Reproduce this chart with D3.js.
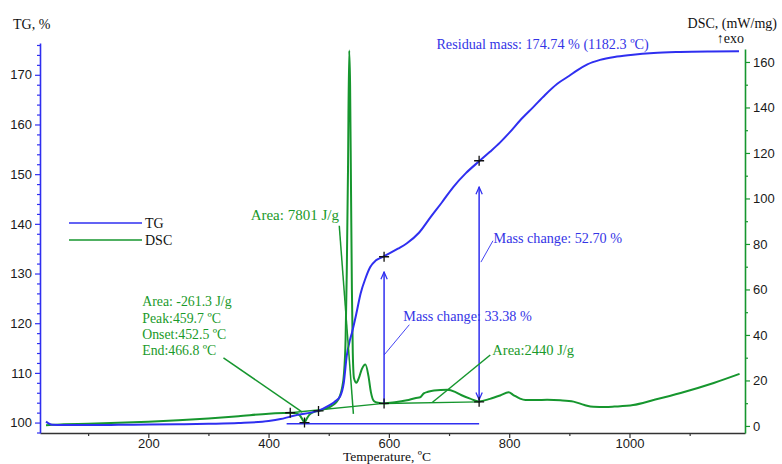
<!DOCTYPE html>
<html>
<head>
<meta charset="utf-8">
<script src="https://cdn.jsdelivr.net/npm/d3@7"></script>
<style>
  html, body { margin: 0; padding: 0; background: #fff; overflow: hidden; }
  svg { display: block; }
</style>
</head>
<body>
<svg id="chart" width="782" height="464"></svg>
<script>
// ---- TG curve (temperature, °C → mass, %) ----
const tgTemp = [30, 35, 40, 60, 100, 150, 200, 250, 300, 350, 400, 420, 436, 450, 470, 483, 500, 510, 519, 525, 530, 535, 539, 546, 553, 561, 569, 578, 589, 600, 615, 630, 650, 669, 688, 707, 728, 750, 768, 785, 800, 818, 840, 860, 880, 900, 913, 930, 951, 975, 1002, 1040, 1084, 1130, 1182];
const tgMass = [100.2, 99.8, 99.55, 99.5, 99.5, 99.55, 99.6, 99.65, 99.75, 99.9, 100.3, 100.7, 101.2, 101.6, 102.0, 102.4, 103.4, 104.2, 105.3, 108.0, 113.5, 116.5, 118.3, 122.0, 126.0, 129.0, 131.3, 132.6, 133.3, 134.0, 135.0, 136.1, 138.2, 141.3, 144.3, 147.4, 150.2, 152.6, 154.5, 156.4, 158.3, 160.8, 163.5, 166.0, 168.2, 169.8, 170.9, 172.1, 173.0, 173.6, 174.0, 174.4, 174.6, 174.7, 174.74];

// ---- DSC curve (temperature, °C → heat flow, mW/mg) ----
const dscTemp = [30, 40, 60, 100, 150, 200, 250, 300, 350, 400, 425, 436, 445, 452, 456, 459.7, 463, 468, 475, 483, 495, 505, 512, 518, 522, 525, 528, 530, 532, 534, 535.5, 537, 538.5, 540, 542, 546, 550, 555, 561, 566, 570, 575, 582, 592, 610, 630, 645, 652, 658, 665, 675, 697, 710, 720, 735, 750, 768, 785, 799, 807, 818, 827, 845, 863, 885, 907, 925, 940, 960, 975, 1006, 1040, 1085, 1140, 1183];
const dscFlow = [0.3, 0.5, 0.7, 1.0, 1.4, 1.9, 2.5, 3.3, 4.3, 5.4, 5.7, 5.8, 5.6, 4.6, 3.0, 1.5, 3.0, 5.0, 6.1, 6.6, 7.6, 8.8, 10.3, 12.8, 16.5, 22, 38, 68, 112, 165, 150, 105, 60, 32, 21, 19, 21, 25, 27, 22, 15, 11, 10.2, 9.9, 10.4, 11.3, 12.3, 12.6, 14.3, 15.0, 15.6, 15.9, 15.0, 13.6, 12.0, 10.8, 11.9, 13.4, 14.8, 13.6, 12.0, 11.4, 11.4, 11.5, 11.3, 10.7, 9.2, 8.4, 8.3, 8.5, 9.2, 11.4, 14.5, 18.9, 22.9];

// ---- axis ticks ----
const xTicks = [200, 400, 600, 800, 1000];
const xMinor = [100, 300, 500, 700, 900, 1100];
const tgTicks = [100, 110, 120, 130, 140, 150, 160, 170];
const tgMinor = [98, 102, 104, 106, 108, 112, 114, 116, 118, 122, 124, 126, 128, 132, 134, 136, 138, 142, 144, 146, 148, 152, 154, 156, 158, 162, 164, 166, 168, 172, 174, 176];
const dscTicks = [0, 20, 40, 60, 80, 100, 120, 140, 160];
const dscMinor = [10, 30, 50, 70, 90, 110, 130, 150];

// ---- evaluation marks ----
// DSC integration baselines [T1, d1, T2, d2]
const dscBaselines = [[436, 5.8, 592, 9.9], [592, 9.9, 750, 10.6]];
// cross markers on the DSC curve [T, d]
const dscCrosses = [[436, 5.8], [459.7, 1.5], [483, 6.6], [592, 9.9], [750, 10.6]];
// mass change steps [T, TG at step end]
const massSteps = [[592, 133.38], [750, 152.70]];
// mass-change arrows [T, from TG, to TG, head at start?]
const massArrows = [[592, 103.8, 130.3, false], [750, 104.6, 147.4, true]];
// reference level of the starting mass [T1, T2, TG]
const refLevel = [430, 750, 99.74];

// annotation texts
const dscNotes = [
  { t: 517, d: 90.5, text: "Area: 7801 J/g", anchor: "end", size: 15 },
  { t: 190, d: 52.7, text: "Area: -261.3 J/g", anchor: "start", size: 13.8 },
  { t: 190, d: 45.4, text: "Peak:459.7 ºC", anchor: "start", size: 13.8 },
  { t: 190, d: 38.2, text: "Onset:452.5 ºC", anchor: "start", size: 13.8 },
  { t: 190, d: 31.0, text: "End:466.8 ºC", anchor: "start", size: 13.8 },
  { t: 772, d: 31.0, text: "Area:2440  J/g", anchor: "start", size: 14.5 }
];
const dscLeaders = [[517.5, 88.0, 541, 5.3], [325, 29.9, 456, 6.1], [768.5, 31.2, 672, 10.3]];
const tgNotes = [
  { t: 624, v: 120.5, text: "Mass change: 33.38 %" },
  { t: 774, v: 136.1, text: "Mass change: 52.70 %" },
  { t: 679, v: 175.2, text: "Residual mass: 174.74 % (1182.3 ºC)" }
];
const tgLeaders = [[634, 119.7, 592, 113.6], [773, 136.6, 753, 132.3]];

// ---- colours ----
const BLUE = "#2f2ff0";
const GREEN = "#16962e";
const TEXT_BLUE = "#3434e6";
const TEXT_GREEN = "#1a9a2a";

const svg = d3.select("#chart");
const L = 40, R = 745, T = 43, B = 433;

const x = d3.scaleLinear().domain([20, 1192]).range([L, R]);
const yL = d3.scaleLinear().domain([97.9, 176.4]).range([B, T]);
const yR = d3.scaleLinear().domain([-3.1, 165.7]).range([B, 49]);

const serif = "'Liberation Serif', 'Times New Roman', serif";
const sans = "'Liberation Sans', Arial, sans-serif";
const intFmt = d3.format("d");

// ---- axes ----
function styleAxis(g, color) {
  g.select(".domain").attr("stroke", color).attr("stroke-width", 1.6);
  g.selectAll(".tick line").attr("stroke", color).attr("stroke-width", 1.2);
  g.selectAll(".tick text").attr("fill", "#1a1a1a").style("font-family", sans).style("font-size", "13px");
}

const gxMinor = svg.append("g").attr("transform", `translate(0,${B})`)
  .call(d3.axisBottom(x).tickValues(xMinor).tickSize(3).tickSizeOuter(0).tickFormat(""));
gxMinor.select(".domain").remove();
gxMinor.selectAll(".tick line").attr("stroke", "#333").attr("stroke-width", 1.2);
const gx = svg.append("g").attr("transform", `translate(0,${B})`)
  .call(d3.axisBottom(x).tickValues(xTicks).tickFormat(intFmt).tickSize(5).tickSizeOuter(0).tickPadding(1));
styleAxis(gx, "#333");

const gyMinor = svg.append("g").attr("transform", `translate(${L},0)`)
  .call(d3.axisLeft(yL).tickValues(tgMinor).tickSize(3).tickSizeOuter(0).tickFormat(""));
gyMinor.select(".domain").remove();
gyMinor.selectAll(".tick line").attr("stroke", BLUE).attr("stroke-width", 1.2);
const gy = svg.append("g").attr("transform", `translate(${L},0)`)
  .call(d3.axisLeft(yL).tickValues(tgTicks).tickFormat(intFmt).tickSize(5).tickSizeOuter(0).tickPadding(3));
styleAxis(gy, BLUE);

const grMinor = svg.append("g").attr("transform", `translate(${R},0)`)
  .call(d3.axisRight(yR).tickValues(dscMinor).tickSize(3).tickSizeOuter(0).tickFormat(""));
grMinor.select(".domain").remove();
grMinor.selectAll(".tick line").attr("stroke", GREEN).attr("stroke-width", 1.2);
const gr = svg.append("g").attr("transform", `translate(${R},0)`)
  .call(d3.axisRight(yR).tickValues(dscTicks).tickFormat(intFmt).tickSize(5).tickSizeOuter(0).tickPadding(3));
styleAxis(gr, GREEN);

// axis titles
svg.append("text").attr("x", 13).attr("y", 29).text("TG, %")
  .style("font-family", serif).style("font-size", "14px").attr("fill", "#111");
svg.append("text").attr("x", 777).attr("y", 28).attr("text-anchor", "end").text("DSC, (mW/mg)")
  .style("font-family", serif).style("font-size", "14px").attr("fill", "#111");
svg.append("text").attr("x", 744).attr("y", 43).attr("text-anchor", "end").text("↑exo")
  .style("font-family", serif).style("font-size", "14px").attr("fill", "#111");
svg.append("text").attr("x", 387).attr("y", 461).attr("text-anchor", "middle").text("Temperature, ºC")
  .style("font-family", serif).style("font-size", "13.5px").attr("fill", "#111");

// ---- evaluation lines behind the curves ----
const marks = svg.append("g");
marks.selectAll("line.base").data(dscBaselines).join("line")
  .attr("x1", d => x(d[0])).attr("y1", d => yR(d[1]))
  .attr("x2", d => x(d[2])).attr("y2", d => yR(d[3]))
  .attr("stroke", GREEN).attr("stroke-width", 1.4);

marks.append("line")
  .attr("x1", x(refLevel[0])).attr("x2", x(refLevel[1]))
  .attr("y1", yL(refLevel[2])).attr("y2", yL(refLevel[2]))
  .attr("stroke", BLUE).attr("stroke-width", 1.5);

// ---- curves ----
const dscLine = d3.line().x(d => x(d[0])).y(d => yR(d[1])).curve(d3.curveMonotoneX);
const tgLine = d3.line().x(d => x(d[0])).y(d => yL(d[1])).curve(d3.curveMonotoneX);

svg.append("path").datum(dscTemp.map((t, i) => [t, dscFlow[i]]))
  .attr("d", dscLine).attr("fill", "none").attr("stroke", GREEN).attr("stroke-width", 2)
  .attr("stroke-linejoin", "round");
svg.append("path").datum(tgTemp.map((t, i) => [t, tgMass[i]]))
  .attr("d", tgLine).attr("fill", "none").attr("stroke", BLUE).attr("stroke-width", 2)
  .attr("stroke-linejoin", "round");

// ---- arrows ----
const defs = svg.append("defs");
defs.append("marker").attr("id", "arrowHead").attr("viewBox", "0 0 10 10")
  .attr("refX", 9).attr("refY", 5).attr("markerWidth", 9).attr("markerHeight", 9)
  .attr("orient", "auto-start-reverse").attr("markerUnits", "userSpaceOnUse")
  .append("path").attr("d", "M1,1.5 L9,5 L1,8.5").attr("fill", "none").attr("stroke", BLUE).attr("stroke-width", 1.4);

svg.selectAll("line.arrow").data(massArrows).join("line")
  .attr("x1", d => x(d[0])).attr("x2", d => x(d[0]))
  .attr("y1", d => yL(d[1])).attr("y2", d => yL(d[2]))
  .attr("stroke", BLUE).attr("stroke-width", 1.5)
  .attr("marker-end", "url(#arrowHead)")
  .attr("marker-start", d => d[3] ? "url(#arrowHead)" : null);

// ---- cross markers ----
function cross(g, px, py) {
  g.append("path").attr("d", `M${px - 5},${py}H${px + 5}M${px},${py - 5}V${py + 5}`)
    .attr("stroke", "#111").attr("stroke-width", 1.3).attr("fill", "none");
}
const crossG = svg.append("g");
dscCrosses.forEach(d => cross(crossG, x(d[0]), yR(d[1])));
massSteps.forEach(d => cross(crossG, x(d[0]), yL(d[1])));

// ---- leader lines ----
svg.selectAll("line.dl").data(dscLeaders).join("line")
  .attr("x1", d => x(d[0])).attr("y1", d => yR(d[1]))
  .attr("x2", d => x(d[2])).attr("y2", d => yR(d[3]))
  .attr("stroke", GREEN).attr("stroke-width", 1.5);
svg.selectAll("line.tl").data(tgLeaders).join("line")
  .attr("x1", d => x(d[0])).attr("y1", d => yL(d[1]))
  .attr("x2", d => x(d[2])).attr("y2", d => yL(d[3]))
  .attr("stroke", BLUE).attr("stroke-width", 0.9);

// ---- annotation texts ----
svg.selectAll("text.dn").data(dscNotes).join("text")
  .attr("x", d => x(d.t)).attr("y", d => yR(d.d)).text(d => d.text)
  .attr("text-anchor", d => d.anchor)
  .attr("fill", TEXT_GREEN).style("font-family", serif).style("font-size", d => d.size + "px");
svg.selectAll("text.tn").data(tgNotes).join("text")
  .attr("x", d => x(d.t)).attr("y", d => yL(d.v)).text(d => d.text)
  .attr("fill", TEXT_BLUE).style("font-family", serif).style("font-size", "14.2px");

// ---- legend ----
const legend = svg.append("g");
[["TG", BLUE, 223], ["DSC", GREEN, 240]].forEach(([name, col, ly]) => {
  legend.append("line").attr("x1", 69).attr("x2", 142).attr("y1", ly).attr("y2", ly)
    .attr("stroke", col).attr("stroke-width", 1.5);
  legend.append("text").attr("x", 145).attr("y", ly + 5).text(name)
    .attr("fill", "#111").style("font-family", serif).style("font-size", "14px");
});
</script>
</body>
</html>
